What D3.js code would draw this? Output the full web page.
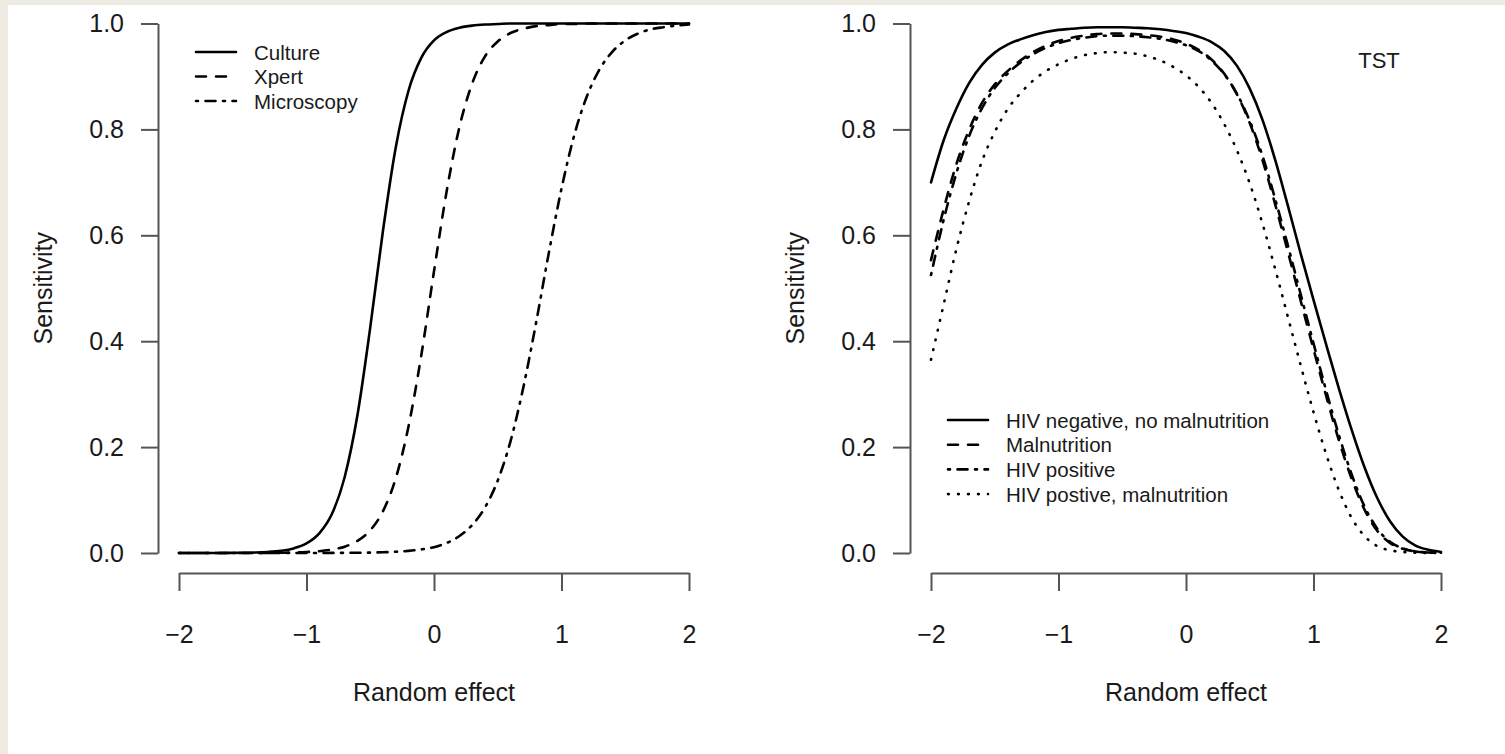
<!DOCTYPE html>
<html>
<head>
<meta charset="utf-8">
<script src="https://cdn.jsdelivr.net/npm/d3@7"></script>
<style>
  html, body { margin: 0; padding: 0; background: #eeebe3; }
  svg { display: block; }
  text { font-family: "Liberation Sans", Arial, Helvetica, sans-serif; fill: #1a1a1a; }
</style>
</head>
<body>
<svg id="chart" width="1505" height="754"></svg>
<script>
// Random-effect grid shared by every curve
const effectGrid = [-2.0, -1.9, -1.8, -1.7, -1.6, -1.5, -1.4, -1.3, -1.2, -1.1,
  -1.0, -0.9, -0.8, -0.7, -0.6, -0.5, -0.4, -0.3, -0.2, -0.1,
  0.0, 0.1, 0.2, 0.3, 0.4, 0.5, 0.6, 0.7, 0.8, 0.9,
  1.0, 1.1, 1.2, 1.3, 1.4, 1.5, 1.6, 1.7, 1.8, 1.9, 2.0];

// Left panel: sensitivity by reference test
const cultureSens = [0.0000, 0.0000, 0.0000, 0.0001, 0.0002, 0.0005, 0.0009, 0.0020, 0.0042, 0.0087,
  0.018, 0.037, 0.074, 0.144, 0.261, 0.426, 0.609, 0.766, 0.873, 0.935,
  0.968, 0.984, 0.992, 0.996, 0.998, 0.999, 1.000, 1.000, 1.000, 1.000,
  1.000, 1.000, 1.000, 1.000, 1.000, 1.000, 1.000, 1.000, 1.000, 1.000, 1.000];
const xpertSens = [0.0000, 0.0000, 0.0000, 0.0000, 0.0000, 0.0001, 0.0001, 0.0002, 0.0005, 0.0009,
  0.0018, 0.0034, 0.0065, 0.012, 0.023, 0.043, 0.079, 0.141, 0.239, 0.373,
  0.532, 0.684, 0.805, 0.887, 0.938, 0.966, 0.982, 0.990, 0.995, 0.997,
  0.999, 0.999, 1.000, 1.000, 1.000, 1.000, 1.000, 1.000, 1.000, 1.000, 1.000];
const microscopySens = [0.0000, 0.0000, 0.0000, 0.0000, 0.0000, 0.0000, 0.0000, 0.0000, 0.0000, 0.0000,
  0.0001, 0.0001, 0.0002, 0.0003, 0.0005, 0.0008, 0.0014, 0.0024, 0.0040, 0.0067,
  0.011, 0.019, 0.032, 0.053, 0.086, 0.137, 0.211, 0.312, 0.434, 0.566,
  0.688, 0.789, 0.863, 0.914, 0.947, 0.968, 0.981, 0.989, 0.993, 0.996, 0.998];

// Right panel: TST sensitivity by patient group
const hivNegSens = [0.700, 0.780, 0.840, 0.888, 0.922, 0.945, 0.960, 0.970, 0.978, 0.984,
  0.988, 0.990, 0.992, 0.993, 0.993, 0.993, 0.992, 0.991, 0.989, 0.986,
  0.982, 0.975, 0.965, 0.948, 0.920, 0.877, 0.818, 0.742, 0.655, 0.565,
  0.478, 0.393, 0.310, 0.232, 0.162, 0.104, 0.060, 0.031, 0.014, 0.006, 0.002];
const malnutritionSens = [0.553, 0.650, 0.735, 0.800, 0.850, 0.885, 0.910, 0.930, 0.946, 0.958,
  0.967, 0.973, 0.977, 0.980, 0.981, 0.981, 0.980, 0.978, 0.975, 0.970,
  0.962, 0.950, 0.932, 0.905, 0.866, 0.812, 0.742, 0.658, 0.568, 0.476,
  0.385, 0.296, 0.212, 0.140, 0.082, 0.042, 0.019, 0.008, 0.003, 0.001, 0.0004];
const hivPosSens = [0.525, 0.630, 0.718, 0.788, 0.840, 0.878, 0.905, 0.926, 0.942, 0.954,
  0.963, 0.969, 0.973, 0.976, 0.977, 0.977, 0.976, 0.974, 0.971, 0.966,
  0.959, 0.948, 0.930, 0.904, 0.867, 0.816, 0.750, 0.668, 0.580, 0.488,
  0.396, 0.306, 0.222, 0.148, 0.088, 0.046, 0.021, 0.009, 0.003, 0.001, 0.0004];
const hivPosMalnutritionSens = [0.365, 0.470, 0.575, 0.665, 0.740, 0.795, 0.838, 0.868, 0.892, 0.910,
  0.923, 0.933, 0.940, 0.944, 0.946, 0.945, 0.943, 0.938, 0.930, 0.918,
  0.902, 0.880, 0.850, 0.810, 0.760, 0.698, 0.622, 0.536, 0.445, 0.354,
  0.266, 0.186, 0.118, 0.066, 0.032, 0.013, 0.005, 0.002, 0.0007, 0.0002, 0.0001];

// Axis ticks and labels
const xTicks = [-2, -1, 0, 1, 2];
const yTicks = [0, 0.2, 0.4, 0.6, 0.8, 1.0];
const xTitle = "Random effect";
const yTitle = "Sensitivity";
const leftLabels = ["Culture", "Xpert", "Microscopy"];
const rightLabels = ["HIV negative, no malnutrition", "Malnutrition", "HIV positive", "HIV postive, malnutrition"];
const rightTag = "TST";

// Line styles (R lty 1, 2, 4, 3)
const styles = {
  solid: null,
  dashed: "10,10",
  dotdash: "2,7.5,10,7.5",
  dotted: "0.8,9.2"
};

const svg = d3.select("#chart");
svg.append("rect").attr("x", 8).attr("y", 5).attr("width", 1497).attr("height", 749).attr("fill", "#ffffff");

const fmtX = d => d < 0 ? "\u2212" + Math.abs(d) : String(d);
const fmtY = d3.format(".1f");

function panel(cfg) {
  const x = d3.scaleLinear().domain([-2, 2]).range([cfg.x0, cfg.x0 + 510]);
  const y = d3.scaleLinear().domain([0, 1]).range([553, 23.5]);
  const g = svg.append("g");

  // y axis, offset left of the data region
  const ya = g.append("g").attr("transform", `translate(${cfg.x0 - 21},0)`)
    .call(d3.axisLeft(y).tickValues(yTicks).tickFormat(fmtY).tickSize(17).tickSizeOuter(0).tickPadding(17));
  // x axis, offset below the data region
  const xa = g.append("g").attr("transform", "translate(0,573)")
    .call(d3.axisBottom(x).tickValues(xTicks).tickFormat(fmtX).tickSize(18).tickSizeOuter(0).tickPadding(34));
  [ya, xa].forEach(a => {
    a.select(".domain").attr("stroke", "#555").attr("stroke-width", 2);
    a.selectAll(".tick line").attr("stroke", "#555").attr("stroke-width", 2);
    a.selectAll("text").attr("font-size", 25).attr("fill", "#1a1a1a")
      .attr("font-family", "'Liberation Sans', Arial, sans-serif");
  });

  g.append("text").attr("x", x(0)).attr("y", 701).attr("text-anchor", "middle")
    .attr("font-size", 25).text(xTitle);
  g.append("text").attr("transform", `translate(${cfg.x0 - 136},${y(0.5)}) rotate(-90)`)
    .attr("text-anchor", "middle").attr("dominant-baseline", "central")
    .attr("font-size", 25).text(yTitle);

  const line = d3.line().x((d, i) => x(effectGrid[i])).y(d => y(d)).curve(d3.curveMonotoneX);
  cfg.series.forEach(s => {
    g.append("path").attr("d", line(s.values)).attr("fill", "none")
      .attr("stroke", "#000").attr("stroke-width", 2.6)
      .attr("stroke-linecap", "round").attr("stroke-linejoin", "round")
      .attr("stroke-dasharray", styles[s.lty]);
  });

  // legend
  const lg = g.append("g");
  cfg.series.forEach((s, i) => {
    const yy = cfg.legY + i * cfg.legStep;
    lg.append("line").attr("x1", cfg.legX).attr("x2", cfg.legX + 40).attr("y1", yy).attr("y2", yy)
      .attr("stroke", "#000").attr("stroke-width", 2.6).attr("stroke-linecap", "round")
      .attr("stroke-dasharray", styles[s.lty]);
    lg.append("text").attr("x", cfg.legX + 58).attr("y", yy).attr("dominant-baseline", "central")
      .attr("font-size", 20.5).text(s.label);
  });
  return { x, y, g };
}

panel({
  x0: 179, legX: 196, legY: 52, legStep: 24.5,
  series: [
    { label: leftLabels[0], values: cultureSens, lty: "solid" },
    { label: leftLabels[1], values: xpertSens, lty: "dashed" },
    { label: leftLabels[2], values: microscopySens, lty: "dotdash" }
  ]
});

const right = panel({
  x0: 931, legX: 948, legY: 420, legStep: 24.7,
  series: [
    { label: rightLabels[0], values: hivNegSens, lty: "solid" },
    { label: rightLabels[1], values: malnutritionSens, lty: "dashed" },
    { label: rightLabels[2], values: hivPosSens, lty: "dotdash" },
    { label: rightLabels[3], values: hivPosMalnutritionSens, lty: "dotted" }
  ]
});

right.g.append("text").attr("x", 1379).attr("y", 60).attr("text-anchor", "middle")
  .attr("dominant-baseline", "central").attr("font-size", 22).text(rightTag);
</script>
</body>
</html>
